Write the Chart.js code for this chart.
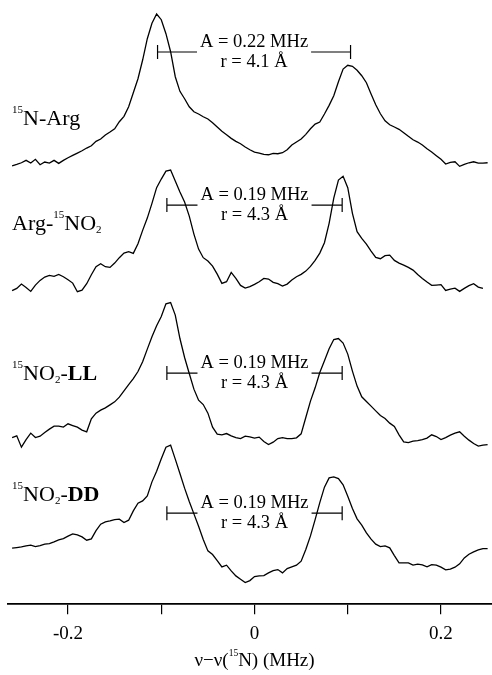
<!DOCTYPE html>
<html>
<head>
<meta charset="utf-8">
<script src="https://cdn.jsdelivr.net/npm/chart.js@4.4.1/dist/chart.umd.min.js"></script>
<style>
  html, body { margin: 0; padding: 0; background: #fff; }
  canvas { display: block; }
</style>
</head>
<body>
<canvas id="spectra" width="492" height="675"></canvas>
<script>
// frequency offset v - v(15N), MHz
const freqs = [-0.26,-0.255,-0.25,-0.245,-0.24,-0.235,-0.23,-0.225,-0.22,-0.215,-0.21,-0.205,-0.2,-0.195,-0.19,-0.185,-0.18,-0.175,-0.17,-0.165,
  -0.16,-0.155,-0.15,-0.145,-0.14,-0.135,-0.13,-0.125,-0.12,-0.115,-0.11,-0.105,-0.1,-0.095,-0.09,-0.085,-0.08,-0.075,-0.07,-0.065,
  -0.06,-0.055,-0.05,-0.045,-0.04,-0.035,-0.03,-0.025,-0.02,-0.015,-0.01,-0.005,0,0.005,0.01,0.015,0.02,0.025,0.03,0.035,
  0.04,0.045,0.05,0.055,0.06,0.065,0.07,0.075,0.08,0.085,0.09,0.095,0.1,0.105,0.11,0.115,0.12,0.125,0.13,0.135,
  0.14,0.145,0.15,0.155,0.16,0.165,0.17,0.175,0.18,0.185,0.19,0.195,0.2,0.205,0.21,0.215,0.22,0.225,0.23,0.235,
  0.24,0.245,0.25];

// ENDOR intensities (arbitrary units, relative to each baseline)
const argN15 = [-2.7,-1.3,0.3,2.7,0,3.7,-1.7,1,0,2.7,-0.3,2.7,5.3,7.7,10,12.3,15,17.3,21.7,24,
  28,31,34.3,41.3,46.7,56.3,70.3,84.3,103,124.3,139.7,149,143.3,129.3,111.3,86.3,71.7,64.3,56.3,51.3,
  49,46.3,44,40.3,36,31.7,28.3,24.7,21.7,19.3,16,13.3,11,10,8.7,8.3,9.7,9.3,10.3,13.3,
  18,21,24,28.7,34.3,39,41,49,57.7,67.3,81.3,94,97.7,96.7,92.7,87.3,80.3,69,58.3,49.3,
  42.3,38.3,36,33.7,30.3,26.7,23.3,21,18,14.3,11,7.3,3.7,-1,0.7,1.3,-3.3,-1.3,0.3,1.3,
  0,0,0.3];
const argNO2 = [-7.3,-5,-0.7,-4,-8,-1.7,3,6.3,8,7,9,6.7,3.7,0.3,-8.3,-6.7,-0.3,8.7,16.7,19.7,
  16.7,16,20.3,25.7,30.3,31.7,30,39.7,53,65.3,80,95.7,104.3,112.3,113.3,102.3,91.3,81.3,67.3,49.3,
  34.3,25.7,22.3,17.3,9.3,0,1.7,11,5,-2,-4.7,-3.3,-1,1.7,5,4.3,1,-0.3,-2.7,-0.7,
  3.3,6.7,9,12.3,17,23,30.3,40.7,60,85.3,103.3,107,95.7,70,51.7,45,39.3,32.3,26,24.7,
  27.7,28.3,23,20.3,18.3,16,13.3,9,5,1.3,-2,-1.7,-1.3,-7,-5.7,-4.7,-8,-5,-2.3,-0.3,
  -3.7,-5,null];
const no2LL = [-0.7,1,-10.3,-2.7,3.7,-0.7,0.7,4.3,7.7,10.7,10.7,9.7,13,11.3,9.7,6.7,5,18,23.7,26.7,
  29,32,35,39.7,46,52.3,58.3,65.3,75,87.7,100,111,120.3,133,134.3,121.7,98.3,79.3,63.3,47.7,
  36.7,32.3,23.7,9.7,2.7,2,3.3,1,-0.7,-1.7,0.7,0,-1.3,-0.3,-4.7,-7.7,-5.3,-1.7,-0.7,-1.7,
  -1.7,-1,3,19.3,35.7,49,64.3,76,88,97.3,98.3,93.7,82.7,65.7,50.7,40,35.3,30.7,26,21.3,
  18.3,13.7,10.3,2,-5,-5.7,-4.3,-3.7,-2.7,-1.3,2,0.3,-2.7,-0.7,1.7,3.7,5,0.7,-3.3,-6.7,
  -9.3,-8.3,-7.7];
const no2DD = [-1.3,-0.7,0,1,1.7,0.3,1.3,2.7,3.3,5,7,8.3,10.7,13,12,10,6.7,8,16.3,22.7,
  25,26,27.3,27.7,24.3,26.7,36,43.7,46,51,65,75.7,88,99.7,101.7,87.7,73.3,58.7,45.3,33,
  20.7,7.3,-4,-7.7,-13.7,-20,-18.3,-24,-29,-32.3,-35.7,-33.7,-29.7,-29,-28.7,-26,-23.7,-22.7,-26,-21.7,
  -20,-18.3,-14.3,-2.7,11,27.3,44.3,59.7,69,70,68.3,62,50.7,38.3,28,21.7,14,7.7,2.7,0.3,
  1,-1,-8.7,-16,-16,-16,-18.3,-17.3,-18,-20,-17.7,-18.3,-20.3,-23,-22.3,-20.3,-17,-11,-7.3,-5,
  -3,-1.7,-1.7];

const series = [argN15, argNO2, no2LL, no2DD];
const baselines = [441, 320.7, 167.3, 57.3];

// trace names (superscript / subscript parts)
const names = [
  [{ t: '15', sup: true }, { t: 'N-Arg' }],
  [{ t: 'Arg-' }, { t: '15', sup: true }, { t: 'NO' }, { t: '2', sub: true }],
  [{ t: '15', sup: true }, { t: 'NO' }, { t: '2', sub: true }, { t: '-' }, { t: 'LL', bold: true }],
  [{ t: '15', sup: true }, { t: 'NO' }, { t: '2', sub: true }, { t: '-' }, { t: 'DD', bold: true }]
];
const nameLevels = [479, 374, 224, 103];

// hyperfine couplings
const couplings = ['A = 0.22 MHz', 'A = 0.19 MHz', 'A = 0.19 MHz', 'A = 0.19 MHz'];
const distances = ['r = 4.1 Å', 'r = 4.3 Å', 'r = 4.3 Å', 'r = 4.3 Å'];
const bracketFrom = [-0.104, -0.094, -0.094, -0.094];
const bracketTo = [0.103, 0.094, 0.094, 0.094];
const bracketLevels = [552, 399, 231, 91];

const tickValues = [-0.2, 0, 0.2];
const tickLabels = ['-0.2', '0', '0.2'];
const axisTitle = [{ t: 'ν−ν(' }, { t: '15', sup: true }, { t: 'N) (MHz)' }];

const SERIF = '"Liberation Serif", "Times New Roman", serif';

function partFont(p, size) {
  const s = (p.sup || p.sub) ? size * 0.5 : size;
  return (p.bold ? 'bold ' : '') + s + 'px ' + SERIF;
}

function richWidth(ctx, parts, size) {
  let w = 0;
  parts.forEach(p => { ctx.font = partFont(p, size); w += ctx.measureText(p.t).width; });
  return w;
}

function drawRich(ctx, parts, x, y, size) {
  let cx = x;
  ctx.textAlign = 'left';
  ctx.textBaseline = 'alphabetic';
  parts.forEach(p => {
    ctx.font = partFont(p, size);
    const dy = p.sup ? -size * 0.55 : p.sub ? size * 0.12 : 0;
    ctx.fillText(p.t, cx, y + dy);
    cx += ctx.measureText(p.t).width;
  });
}

const overlay = {
  id: 'overlay',
  afterDraw(chart) {
    const { ctx, chartArea } = chart;
    const x = chart.scales.x, y = chart.scales.y;
    ctx.save();
    ctx.fillStyle = '#000';
    ctx.strokeStyle = '#000';

    // names on the left
    names.forEach((parts, k) => {
      drawRich(ctx, parts, x.getPixelForValue(freqs[0]), y.getPixelForValue(nameLevels[k]), 22);
    });

    // coupling brackets
    couplings.forEach((txt, k) => {
      const x1 = x.getPixelForValue(bracketFrom[k]);
      const x2 = x.getPixelForValue(bracketTo[k]);
      const yb = y.getPixelForValue(bracketLevels[k]);
      const xc = (x1 + x2) / 2;
      ctx.font = '18.5px ' + SERIF;
      const w = ctx.measureText(txt).width;
      ctx.lineWidth = 1.2;
      ctx.beginPath();
      ctx.moveTo(x1, yb); ctx.lineTo(xc - w / 2 - 3, yb);
      ctx.moveTo(xc + w / 2 + 3, yb); ctx.lineTo(x2, yb);
      ctx.moveTo(x1, yb - 7); ctx.lineTo(x1, yb + 7);
      ctx.moveTo(x2, yb - 7); ctx.lineTo(x2, yb + 7);
      ctx.stroke();
      ctx.textAlign = 'center';
      ctx.textBaseline = 'middle';
      ctx.fillText(txt, xc, yb - 10);
      ctx.fillText(distances[k], xc, yb + 10);
    });

    // axis title
    const tw = richWidth(ctx, axisTitle, 19);
    const cx = x.getPixelForValue(0);
    drawRich(ctx, axisTitle, cx - tw / 2, chartArea.bottom + 62, 19);
    ctx.restore();
  }
};

const datasets = series.map((vals, k) => ({
  data: freqs.map((f, i) => ({ x: f, y: vals[i] === null ? null : baselines[k] + vals[i] })),
  borderColor: '#000',
  borderWidth: 1.3,
  pointRadius: 0,
  tension: 0,
  fill: false,
  spanGaps: false
}));

new Chart(document.getElementById('spectra'), {
  type: 'line',
  data: { datasets: datasets },
  options: {
    responsive: false,
    animation: false,
    layout: { padding: { left: 8, right: 0, top: 0, bottom: 22 } },
    plugins: { legend: { display: false }, tooltip: { enabled: false } },
    scales: {
      x: {
        type: 'linear',
        min: -0.2644,
        max: 0.2547,
        border: { display: true, color: '#000', width: 1.8 },
        grid: { display: true, drawOnChartArea: false, drawTicks: true, tickLength: 10, color: '#000', lineWidth: 1.2 },
        ticks: {
          stepSize: 0.1,
          includeBounds: false,
          autoSkip: false,
          maxRotation: 0,
          padding: 8,
          color: '#000',
          font: { family: SERIF, size: 19 },
          callback: v => {
            const k = tickValues.findIndex(t => Math.abs(t - v) < 1e-9);
            return k >= 0 ? tickLabels[k] : '';
          }
        }
      },
      y: { display: false, min: 0, max: 604 }
    }
  },
  plugins: [overlay]
});
</script>
</body>
</html>
